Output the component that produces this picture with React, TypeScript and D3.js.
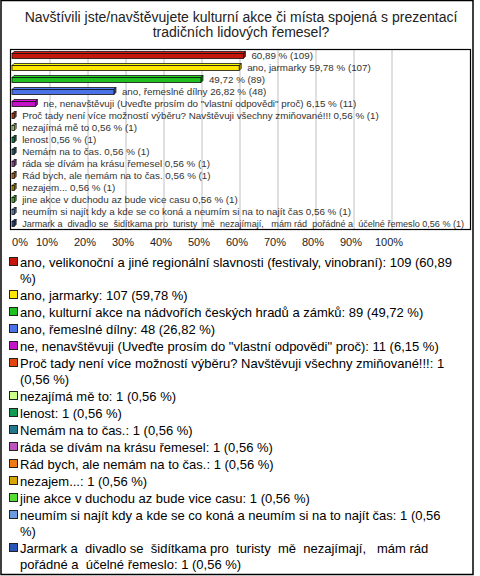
import React from "react";
import * as d3 from "d3";

const titleLines = [
  "Navštívili jste/navštěvujete kulturní akce či místa spojená s prezentací",
  "tradičních lidových řemesel?",
];

const categories = [
  "ano, velikonoční a jiné regionální slavnosti (festivaly, vinobraní)",
  "ano, jarmarky",
  "ano, kulturní akce na nádvořích českých hradů a zámků",
  "ano, řemeslné dílny",
  "ne, nenavštěvuji (Uveďte prosím do \"vlastní odpovědi\" proč)",
  "Proč tady není více možností výběru? Navštěvuji všechny zmiňované!!!",
  "nezajímá mě to",
  "lenost",
  "Nemám na to čas.",
  "ráda se dívám na krásu řemesel",
  "Rád bych, ale nemám na to čas.",
  "nezajem...",
  "jine akce v duchodu az bude vice casu",
  "neumím si najít kdy a kde se co koná a neumím si na to najít čas",
  "Jarmark a  divadlo se  šidítkama pro  turisty  mě  nezajímají,   mám rád  pořádné a  účelné řemeslo",
];

// names shown next to the bars (the two longest ones are omitted in the original)
const barNames = [
  "",
  "ano, jarmarky",
  "",
  "ano, řemeslné dílny",
  "ne, nenavštěvuji (Uveďte prosím do \"vlastní odpovědi\" proč)",
  "Proč tady není více možností výběru? Navštěvuji všechny zmiňované!!!",
  "nezajímá mě to",
  "lenost",
  "Nemám na to čas.",
  "ráda se dívám na krásu řemesel",
  "Rád bych, ale nemám na to čas.",
  "nezajem...",
  "jine akce v duchodu az bude vice casu",
  "neumím si najít kdy a kde se co koná a neumím si na to najít čas",
  "Jarmark a  divadlo se  šidítkama pro  turisty  mě  nezajímají,   mám rád  pořádné a  účelné řemeslo",
];

const counts = [109, 107, 89, 48, 11, 1, 1, 1, 1, 1, 1, 1, 1, 1, 1];
const percents = [60.89, 59.78, 49.72, 26.82, 6.15, 0.56, 0.56, 0.56, 0.56, 0.56, 0.56, 0.56, 0.56, 0.56, 0.56];

const colors = [
  "#c4160c", "#ffe600", "#1fbf1f", "#4a72e6", "#c412c8",
  "#e2460e", "#ccff88", "#149c55", "#22788a", "#bb55bb",
  "#ee7a14", "#d9a600", "#55dd33", "#6b9be0", "#2a55b8",
];

const xTicks = [0, 10, 20, 30, 40, 50, 60, 70, 80, 90, 100];

const fmt = (v: number) => v.toFixed(2).replace(".", ",");

const W = 480;
const H = 576;

let ctx: CanvasRenderingContext2D | null = null;
function measure(text: string, font: string): number {
  if (!ctx) ctx = document.createElement("canvas").getContext("2d")!;
  ctx.font = font;
  return ctx.measureText(text).width;
}

function wrap(text: string, maxW: number, font: string): string[] {
  const words = text.split(" ");
  const lines: string[] = [];
  let cur = "";
  for (const w of words) {
    const t = cur === "" ? w : cur + " " + w;
    if (measure(t, font) > maxW && cur !== "") {
      lines.push(cur);
      cur = w;
    } else cur = t;
  }
  if (cur) lines.push(cur);
  return lines;
}

export default function App() {
  const plotL = 10, plotR = 470, plotT = 49, plotB = 229;
  const x = d3.scaleLinear().domain([0, 100]).range([12, 392]);
  const y = d3.scaleBand<number>().domain(d3.range(categories.length)).range([plotT, plotB]).paddingInner(0.42).paddingOuter(0.21);
  const bh = y.bandwidth();
  const depth = 2;

  const barFontSize = 9.8;
  const fontFam = "'Liberation Sans', Arial, sans-serif";

  const legendFont = `13px ${fontFam}`;
  const legendItems = categories.map((c, i) => ({
    lines: wrap(`${c}: ${counts[i]} (${fmt(percents[i])} %)`, 440, legendFont),
    color: colors[i],
  }));
  const lineH = 16, itemGap = 1;
  let cy = 262;
  const legendPos = legendItems.map((it) => {
    const p = cy;
    cy += it.lines.length * lineH + itemGap;
    return p;
  });

  return (
    <svg width={W} height={H} style={{ position: "absolute", left: 0, top: 0, fontFamily: fontFam }}>
      <rect x={0} y={0} width={W} height={H} fill="#fff" />
      <rect x={1} y={0.5} width={472} height={574} fill="none" stroke="#000" strokeWidth={1.5} />
      {titleLines.map((t, i) => (
        <text key={i} x={241} y={22 + i * 15} textAnchor="middle" fontSize={14} fill="#222">{t}</text>
      ))}
      {/* gridlines */}
      {xTicks.filter((t) => t > 0).map((t) => (
        <line key={t} x1={x(t)} x2={x(t)} y1={plotT} y2={plotB} stroke="#c0c0c0" strokeWidth={1} />
      ))}
      <rect x={plotL + 0.5} y={plotT + 0.5} width={plotR - plotL} height={plotB - plotT} fill="none" stroke="#000" strokeWidth={1.2} />
      {/* bars */}
      {percents.map((p, i) => {
        const x0 = x(0);
        const x1 = x(p);
        const w = Math.max(x1 - x0, 1.5);
        const y0 = y(i)!;
        const c = d3.color(colors[i])!;
        const top = c.brighter(0.4).formatHex();
        const side = c.darker(0.8).formatHex();
        const label = (barNames[i] ? barNames[i] + " " : "") + `${fmt(p)} % (${counts[i]})`;
        const lx = x0 + w + depth + 6;
        const avail = plotR - 5 - lx;
        const lw = measure(label, `${barFontSize}px ${fontFam}`);
        const fs = lw > avail ? barFontSize * avail / lw : barFontSize;
        return (
          <g key={i}>
            <polygon
              points={`${x0},${y0 + depth} ${x0 + depth},${y0} ${x0 + w + depth},${y0} ${x0 + w},${y0 + depth}`}
              fill={top} stroke="#111" strokeWidth={0.8}
            />
            <polygon
              points={`${x0 + w},${y0 + depth} ${x0 + w + depth},${y0} ${x0 + w + depth},${y0 + bh - depth} ${x0 + w},${y0 + bh}`}
              fill={side} stroke="#111" strokeWidth={0.8}
            />
            <rect x={x0} y={y0 + depth} width={w} height={bh - depth} fill={colors[i]} stroke="#111" strokeWidth={0.8} />
            <text x={lx} y={y0 + bh / 2 + 3.5} fontSize={fs} fill="#333" style={{ whiteSpace: "pre" }}>
              {label}
            </text>
          </g>
        );
      })}
      {/* axis labels */}
      {xTicks.map((t) => (
        <text key={t} x={t === 0 ? x(0) : x(t) - 3} y={246} fontSize={11} fill="#222" textAnchor={t === 0 ? "start" : "middle"}>
          {t}%
        </text>
      ))}
      {/* legend */}
      {legendItems.map((it, i) => (
        <g key={i}>
          <rect x={9.5} y={legendPos[i] - 4.5} width={8} height={8} fill={it.color} stroke="#222" strokeWidth={1} />
          {it.lines.map((l, j) => (
            <text key={j} x={20} y={legendPos[i] + 4.5 + j * lineH} fontSize={13} fill="#000" style={{ whiteSpace: "pre" }}>{l}</text>
          ))}
        </g>
      ))}
    </svg>
  );
}
